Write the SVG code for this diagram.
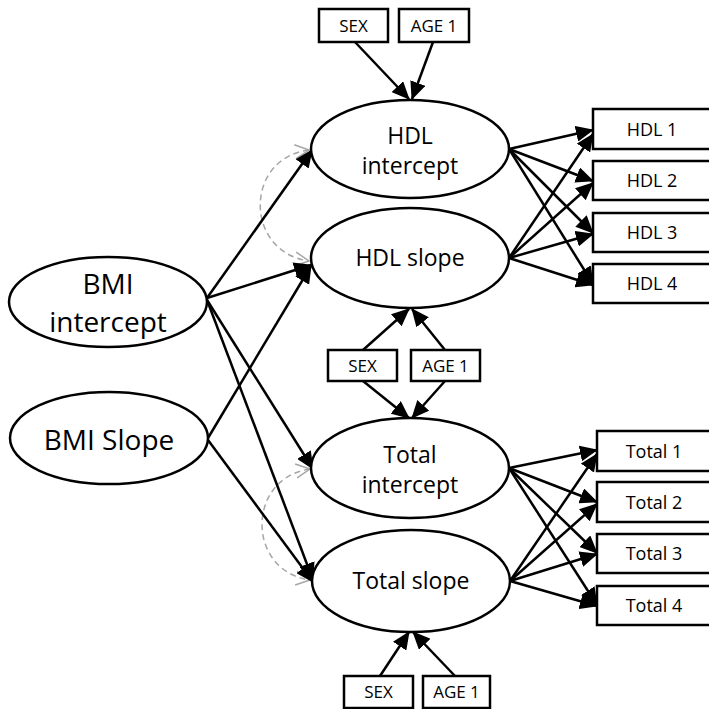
<svg xmlns="http://www.w3.org/2000/svg" width="709" height="709" viewBox="0 0 709 709">
  <style>
    .latent { fill: #ffffff; stroke: #000000; stroke-width: 2.5; }
    .obs { fill: #ffffff; stroke: #000000; stroke-width: 2.5; }
    .lbl { font-family: "Open Sans", "Liberation Sans", sans-serif; fill: #000000; text-anchor: middle; }
    .big { font-size: 28px; }
    .mid { font-size: 23px; }
    .small { font-size: 17px; }
    .ind { font-size: 18px; }
    .path { fill: none; stroke: #000000; stroke-width: 2.5; marker-end: url(#arrow); }
    .cov { fill: none; stroke: #a6a6a6; stroke-width: 1.5; stroke-dasharray: 6 4; marker-start: url(#open); marker-end: url(#open); }
  </style>
  <defs>
    <marker id="arrow" markerUnits="userSpaceOnUse" markerWidth="18" markerHeight="16" viewBox="0 0 18 16" refX="17" refY="8" orient="auto">
      <path d="M0,0 L18,8 L0,16 z" fill="#000000"/>
    </marker>
    <marker id="open" markerUnits="userSpaceOnUse" markerWidth="18" markerHeight="18" viewBox="0 0 18 18" refX="16" refY="9" orient="auto-start-reverse">
      <path d="M2,2 L16,9 L2,16" fill="none" stroke="#a6a6a6" stroke-width="1.5"/>
    </marker>
  </defs>

  <rect width="709" height="709" fill="#ffffff"/>

  <!-- paths -->
  <g id="connectors">
    <!-- covariances -->
    <path class="cov" d="M309,150 C244,158 244,252 309,261"/>
    <path class="cov" d="M310,469 C246,478 246,571 310,580"/>

    <!-- covariates to HDL intercept -->
    <line class="path" x1="355" y1="42" x2="409" y2="99"/>
    <line class="path" x1="433" y1="42" x2="412" y2="99"/>
    <!-- covariates to HDL slope -->
    <line class="path" x1="363" y1="350" x2="409" y2="309"/>
    <line class="path" x1="445" y1="350" x2="412" y2="309"/>
    <!-- covariates to Total intercept -->
    <line class="path" x1="363" y1="381" x2="409" y2="418"/>
    <line class="path" x1="445" y1="381" x2="412" y2="418"/>
    <!-- covariates to Total slope -->
    <line class="path" x1="380" y1="676" x2="409" y2="632"/>
    <line class="path" x1="455" y1="676" x2="413" y2="632"/>

    <!-- BMI growth factors to outcome growth factors -->
    <line class="path" x1="207" y1="298" x2="312" y2="150"/>
    <line class="path" x1="207" y1="298" x2="311" y2="265"/>
    <line class="path" x1="208" y1="438" x2="311" y2="266"/>
    <line class="path" x1="207" y1="300" x2="313" y2="469"/>
    <line class="path" x1="207" y1="300" x2="313" y2="580"/>
    <line class="path" x1="208" y1="440" x2="313" y2="582"/>

    <!-- HDL loadings -->
    <line class="path" x1="509" y1="149" x2="593" y2="130"/>
    <line class="path" x1="509" y1="149" x2="593" y2="181"/>
    <line class="path" x1="509" y1="149" x2="593" y2="233"/>
    <line class="path" x1="509" y1="149" x2="593" y2="284"/>
    <line class="path" x1="509" y1="258" x2="593" y2="134"/>
    <line class="path" x1="509" y1="258" x2="593" y2="183"/>
    <line class="path" x1="509" y1="258" x2="593" y2="234"/>
    <line class="path" x1="509" y1="258" x2="593" y2="285"/>

    <!-- Total loadings -->
    <line class="path" x1="509" y1="468" x2="597" y2="450"/>
    <line class="path" x1="509" y1="468" x2="597" y2="502"/>
    <line class="path" x1="509" y1="468" x2="597" y2="553"/>
    <line class="path" x1="509" y1="468" x2="597" y2="605"/>
    <line class="path" x1="510" y1="581" x2="597" y2="454"/>
    <line class="path" x1="510" y1="581" x2="597" y2="504"/>
    <line class="path" x1="510" y1="581" x2="597" y2="554"/>
    <line class="path" x1="510" y1="581" x2="597" y2="606"/>
  </g>

  <!-- latent growth factors -->
  <g id="bmi-intercept">
    <ellipse class="latent" cx="108" cy="302" rx="99" ry="45"/>
    <text class="lbl big" x="108" y="294">BMI</text>
    <text class="lbl big" x="108" y="332">intercept</text>
  </g>
  <g id="bmi-slope">
    <ellipse class="latent" cx="109" cy="438" rx="99" ry="46"/>
    <text class="lbl big" x="109" y="450">BMI Slope</text>
  </g>
  <g id="hdl-intercept">
    <ellipse class="latent" cx="410" cy="149" rx="99" ry="49"/>
    <text class="lbl mid" x="410" y="144">HDL</text>
    <text class="lbl mid" x="410" y="174">intercept</text>
  </g>
  <g id="hdl-slope">
    <ellipse class="latent" cx="410" cy="258" rx="99" ry="50"/>
    <text class="lbl mid" x="410" y="266">HDL slope</text>
  </g>
  <g id="total-intercept">
    <ellipse class="latent" cx="410" cy="468" rx="99" ry="50"/>
    <text class="lbl mid" x="410" y="463">Total</text>
    <text class="lbl mid" x="410" y="493">intercept</text>
  </g>
  <g id="total-slope">
    <ellipse class="latent" cx="411" cy="581" rx="99" ry="51"/>
    <text class="lbl mid" x="411" y="589">Total slope</text>
  </g>

  <!-- covariates -->
  <g id="sex-top">
    <rect class="obs" x="319" y="9" width="69" height="33"/>
    <text class="lbl small" x="353.5" y="32">SEX</text>
  </g>
  <g id="age-top">
    <rect class="obs" x="399" y="9" width="70" height="33"/>
    <text class="lbl small" x="434" y="32">AGE 1</text>
  </g>
  <g id="sex-mid">
    <rect class="obs" x="328" y="350" width="69" height="31"/>
    <text class="lbl small" x="362.5" y="372">SEX</text>
  </g>
  <g id="age-mid">
    <rect class="obs" x="411" y="350" width="69" height="31"/>
    <text class="lbl small" x="445.5" y="372">AGE 1</text>
  </g>
  <g id="sex-bottom">
    <rect class="obs" x="344" y="676" width="69" height="32"/>
    <text class="lbl small" x="378.5" y="698">SEX</text>
  </g>
  <g id="age-bottom">
    <rect class="obs" x="423" y="676" width="67" height="32"/>
    <text class="lbl small" x="456.5" y="698">AGE 1</text>
  </g>

  <!-- repeated measures -->
  <g id="hdl-1">
    <rect class="obs" x="593" y="109" width="120" height="40"/>
    <text class="lbl ind" x="652" y="136">HDL 1</text>
  </g>
  <g id="hdl-2">
    <rect class="obs" x="593" y="161" width="120" height="39"/>
    <text class="lbl ind" x="652" y="187">HDL 2</text>
  </g>
  <g id="hdl-3">
    <rect class="obs" x="593" y="213" width="120" height="39"/>
    <text class="lbl ind" x="652" y="239">HDL 3</text>
  </g>
  <g id="hdl-4">
    <rect class="obs" x="593" y="264" width="120" height="39"/>
    <text class="lbl ind" x="652" y="290">HDL 4</text>
  </g>
  <g id="total-1">
    <rect class="obs" x="597" y="431" width="120" height="40"/>
    <text class="lbl ind" x="654" y="458">Total 1</text>
  </g>
  <g id="total-2">
    <rect class="obs" x="597" y="482" width="120" height="40"/>
    <text class="lbl ind" x="654" y="509">Total 2</text>
  </g>
  <g id="total-3">
    <rect class="obs" x="597" y="534" width="120" height="39"/>
    <text class="lbl ind" x="654" y="560">Total 3</text>
  </g>
  <g id="total-4">
    <rect class="obs" x="597" y="586" width="120" height="39"/>
    <text class="lbl ind" x="654" y="612">Total 4</text>
  </g>
</svg>
